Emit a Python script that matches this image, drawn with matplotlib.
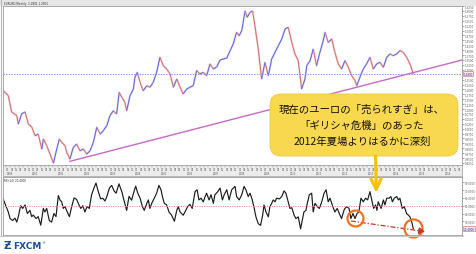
import numpy as np
import matplotlib
matplotlib.use("Agg")
import matplotlib.pyplot as plt
from matplotlib.collections import LineCollection
from matplotlib.patches import FancyBboxPatch, FancyArrowPatch, Rectangle
from matplotlib.lines import Line2D
from matplotlib.transforms import Affine2D, blended_transform_factory
from matplotlib.ticker import FormatStrFormatter

# ---------------- data ----------------
# EUR/USD weekly closes (decimal year, price)
price_t = [
    1998.89, 1999.08, 1999.21, 1999.41, 1999.47, 1999.60, 1999.73, 1999.86, 1999.99, 2000.12,
    2000.24, 2000.38, 2000.44, 2000.57, 2000.70, 2000.83, 2000.96, 2001.06, 2001.15, 2001.28,
    2001.34, 2001.47, 2001.60, 2001.73, 2001.86, 2001.99, 2002.12, 2002.25, 2002.38, 2002.51,
    2002.64, 2002.76, 2002.90, 2003.02, 2003.15, 2003.28, 2003.38, 2003.48, 2003.60, 2003.67,
    2003.80, 2003.93, 2003.99, 2004.08, 2004.19, 2004.31, 2004.45, 2004.57, 2004.70, 2004.83,
    2004.96, 2005.09, 2005.22, 2005.35, 2005.48, 2005.61, 2005.74, 2005.86, 2006.00, 2006.12,
    2006.25, 2006.38, 2006.51, 2006.64, 2006.77, 2006.90, 2007.03, 2007.16, 2007.29, 2007.41,
    2007.55, 2007.67, 2007.80, 2007.93, 2008.03, 2008.13, 2008.26, 2008.34, 2008.45, 2008.55,
    2008.64, 2008.77, 2008.90, 2009.03, 2009.16, 2009.29, 2009.42, 2009.55, 2009.68, 2009.81,
    2009.93, 2010.07, 2010.19, 2010.32, 2010.45, 2010.58, 2010.65, 2010.78, 2010.90, 2011.03,
    2011.16, 2011.29, 2011.36, 2011.48, 2011.62, 2011.74, 2011.87, 2012.00, 2012.13, 2012.26,
    2012.39, 2012.52, 2012.59, 2012.71, 2012.84, 2012.97, 2013.10, 2013.23, 2013.36, 2013.49,
    2013.62, 2013.75, 2013.88, 2014.00, 2014.14, 2014.26, 2014.39, 2014.52, 2014.65, 2014.78,
]
price_close = [
    1.193, 1.168, 1.085, 1.066, 1.023, 1.075, 1.085, 1.023, 1.008, 0.964,
    0.972, 0.896, 0.947, 0.913, 0.870, 0.824, 0.896, 0.947, 0.930, 0.913,
    0.879, 0.845, 0.904, 0.921, 0.887, 0.896, 0.870, 0.887, 0.930, 1.007,
    0.972, 0.989, 1.015, 1.066, 1.091, 1.075, 1.185, 1.160, 1.134, 1.091,
    1.168, 1.202, 1.262, 1.287, 1.236, 1.193, 1.219, 1.211, 1.236, 1.287,
    1.364, 1.321, 1.304, 1.279, 1.211, 1.253, 1.211, 1.177, 1.202, 1.211,
    1.219, 1.296, 1.279, 1.287, 1.270, 1.330, 1.304, 1.315, 1.350, 1.355,
    1.360, 1.395, 1.432, 1.491, 1.474, 1.500, 1.600, 1.568, 1.593, 1.600,
    1.525, 1.406, 1.253, 1.338, 1.270, 1.355, 1.389, 1.423, 1.457, 1.508,
    1.517, 1.440, 1.381, 1.347, 1.202, 1.253, 1.321, 1.347, 1.406, 1.321,
    1.389, 1.449, 1.491, 1.440, 1.457, 1.389, 1.330, 1.304, 1.347, 1.313,
    1.270, 1.245, 1.219, 1.262, 1.304, 1.330, 1.364, 1.304, 1.330, 1.338,
    1.313, 1.364, 1.381, 1.372, 1.381, 1.398, 1.389, 1.364, 1.330, 1.280,
]

# RSI(14) on the weekly chart
rsi_t = [
    1998.86, 1998.95, 1999.08, 1999.15, 1999.25, 1999.34, 1999.41, 1999.47, 1999.56, 1999.64,
    1999.73, 1999.82, 1999.92, 1999.99, 2000.05, 2000.16, 2000.24, 2000.34, 2000.44, 2000.50,
    2000.57, 2000.67, 2000.76, 2000.85, 2000.93, 2001.02, 2001.09, 2001.15, 2001.21, 2001.28,
    2001.34, 2001.45, 2001.54, 2001.63, 2001.73, 2001.82, 2001.89, 2001.97, 2002.05, 2002.14,
    2002.22, 2002.31, 2002.40, 2002.48, 2002.57, 2002.66, 2002.74, 2002.83, 2002.90, 2003.00,
    2003.09, 2003.18, 2003.26, 2003.37, 2003.48, 2003.58, 2003.67, 2003.76, 2003.86, 2003.97,
    2004.02, 2004.10, 2004.19, 2004.28, 2004.35, 2004.45, 2004.51, 2004.57, 2004.64, 2004.74,
    2004.83, 2004.92, 2005.00, 2005.07, 2005.13, 2005.22, 2005.31, 2005.41, 2005.52, 2005.61,
    2005.67, 2005.74, 2005.80, 2005.86, 2005.96, 2006.03, 2006.12, 2006.21, 2006.32, 2006.40,
    2006.47, 2006.55, 2006.64, 2006.71, 2006.77, 2006.86, 2006.94, 2007.03, 2007.09, 2007.20,
    2007.29, 2007.38, 2007.45, 2007.55, 2007.64, 2007.74, 2007.87, 2007.93, 2008.03, 2008.13,
    2008.22, 2008.29, 2008.38, 2008.45, 2008.52, 2008.60, 2008.68, 2008.77, 2008.86, 2008.94,
    2008.99, 2009.07, 2009.16, 2009.22, 2009.29, 2009.35, 2009.42, 2009.48, 2009.59, 2009.68,
    2009.77, 2009.84, 2009.93, 2010.00, 2010.07, 2010.16, 2010.23, 2010.32, 2010.41, 2010.49,
    2010.54, 2010.62, 2010.67, 2010.75, 2010.84, 2010.90, 2010.97, 2011.06, 2011.14, 2011.23,
    2011.32, 2011.40, 2011.48, 2011.55, 2011.66, 2011.74, 2011.83, 2011.94, 2012.00, 2012.09,
    2012.13, 2012.20, 2012.29, 2012.36, 2012.44, 2012.52, 2012.60, 2012.67, 2012.75, 2012.84,
    2012.93, 2013.01, 2013.10, 2013.17, 2013.24, 2013.32, 2013.37, 2013.42, 2013.53, 2013.62,
    2013.68, 2013.75, 2013.84, 2013.91, 2013.97, 2014.04, 2014.14, 2014.20, 2014.26, 2014.35,
    2014.43, 2014.52, 2014.59, 2014.65, 2014.72, 2014.78,
]
rsi_val = [
    60.4, 53, 42, 33.5, 31, 34, 29, 36, 50, 46.5,
    51, 40, 44, 36, 38, 33.5, 36, 25, 46.5, 42,
    46.5, 31, 29, 40, 36, 63, 57, 55, 46.5, 49,
    44, 36, 49, 60, 58, 51, 46.5, 50, 42, 49,
    46.5, 64, 72.5, 79, 68, 58.7, 59.6, 56, 61.7, 72.6,
    76, 69, 66, 78, 68, 55, 44, 62, 57, 70,
    75, 66, 59.6, 48.7, 44, 53, 57.4, 46.5, 53, 59.6,
    66, 76, 70.4, 59.6, 53, 51, 42, 37.8, 30, 44,
    48.7, 42, 40, 37.8, 44, 48.7, 51.7, 46.5, 68, 70.4,
    57.4, 59.6, 55, 61.7, 66, 57.4, 64, 53, 64, 68,
    72.6, 57.4, 64, 70.4, 57.4, 70.4, 74.8, 61.7, 57.4, 64,
    74.8, 70.4, 61.7, 66, 59.6, 48.7, 35.7, 27, 24.8, 37.8,
    50.9, 42, 35.7, 48.7, 53, 57.4, 55, 59.6, 58.7, 61.7,
    69, 66, 55, 46.5, 47.4, 37.8, 33.5, 35.7, 20.4, 33.5,
    42, 44, 53, 64, 66, 42, 53, 48.7, 46.5, 55,
    66, 70.4, 55, 59.6, 48.7, 42, 46.5, 37.8, 33.5, 44,
    46.5, 48.7, 46.5, 33.5, 40, 33.5, 40, 42, 59.6, 55,
    59.6, 57.4, 68, 57.4, 46.5, 51, 44, 55, 46.5, 57.4,
    51, 59.6, 59.6, 61.7, 55, 59.6, 61.7, 57.4, 59.6, 46.5,
    48.7, 40, 37.8, 35.7, 29, 20.4,
]

# long-term support line through the 2001 low
trend_t = [2001.47, 2016.67]
trend_p = [0.833, 1.350]

rsi_mid_level = 50
years = list(range(1999, 2017))

callout_lines = [
    "現在のユーロの「売られすぎ」は、",
    "「ギリシャ危機」のあった",
    "2012年夏場よりはるかに深刻",
]

# ---------------- figure ----------------
W, H = 477, 255
fig = plt.figure(figsize=(W / 100, H / 100), dpi=100, facecolor="white")
PX = Affine2D().scale(1 / W, -1 / H).translate(0, 1) + fig.transFigure


def rect(x0, y0, x1, y1):
    return [x0 / W, 1 - y1 / H, (x1 - x0) / W, (y1 - y0) / H]


T0, T1 = 1998.876, 2016.667
TINY = 2.0
AXCOL = "#9a9a9a"

# window header band and frame
fig.add_artist(Rectangle((0, 0), W, 6.5, transform=PX, facecolor="#e7e7e7",
                         edgecolor="none", zorder=-1))
fig.add_artist(Line2D([1.2, 1.2], [0, 237], transform=PX, color="#b5b5b5", lw=0.8))
fig.add_artist(Line2D([0, 463], [236.8, 236.8], transform=PX, color="#c8c8c8", lw=0.8))

# ---- price panel ----
ax = fig.add_axes(rect(3, 7, 462, 166))
ax.set_xlim(T0, T1)
ax.set_ylim(0.8143, 1.6255)
pts = np.column_stack([price_t, price_close])
segs = np.stack([pts[:-1], pts[1:]], axis=1)
cols = ["#6464e8" if b >= a else "#e46c6c" for a, b in zip(price_close[:-1], price_close[1:])]
ax.plot(price_t, price_close, color="#a0a0b4", lw=1.5, alpha=0.35, solid_joinstyle="round")
ax.add_collection(LineCollection(segs, colors=cols, linewidths=0.75))
ax.plot(trend_t, trend_p, color="#c869c8", lw=1.0)
last_price = price_close[-1]
ax.axhline(last_price, color="#8f8fff", lw=0.8, ls=(0, (1.2, 1.2)))

ax.set_xticks([])
ax.yaxis.tick_right()
pticks = [v for v in np.arange(0.825, 1.626, 0.025) if abs(v - last_price) > 0.012]
ax.set_yticks(pticks)
ax.yaxis.set_major_formatter(FormatStrFormatter("%.4f"))
ax.tick_params(axis="y", labelsize=TINY, length=1.5, width=0.4, pad=0.6,
               colors="#606060")
for s in ax.spines.values():
    s.set_color(AXCOL)
    s.set_linewidth(0.6)
ax.text(1.003, last_price, f"{last_price:.4f}",
        transform=blended_transform_factory(ax.transAxes, ax.transData),
        fontsize=TINY, color="#2a2ac0", ha="left", va="center",
        bbox=dict(boxstyle="square,pad=0.25", fc="#fde8e8", ec="#e06060", lw=0.4))
fig.text(4 / W, 1 - 3.8 / H, "EURUSD,Weekly  1.2801 1.2801", fontsize=TINY,
         color="#303030", va="center", ha="left")

# ---- date strip ----
axd = fig.add_axes(rect(3, 166, 462, 176.5))
axd.set_xlim(T0, T1)
axd.set_ylim(0, 1)
axd.set_facecolor("#ececec")
axd.set_xticks([])
axd.set_yticks([])
for s in axd.spines.values():
    s.set_color(AXCOL)
    s.set_linewidth(0.5)
for yr in years:
    for m in range(1, 13, 2):
        t = yr + (m - 1) / 12
        if T0 <= t <= T1 - 0.1:
            axd.plot([t, t], [0.82, 1.0], color="#777777", lw=0.35)
            axd.text(t, 0.6, f"{m:02d}", fontsize=1.8, color="#555555",
                     ha="left", va="center")
    if T0 <= yr <= T1 - 0.3:
        axd.text(yr, 0.2, str(yr), fontsize=1.8, color="#555555",
                 ha="left", va="center")

# ---- RSI panel ----
axr = fig.add_axes(rect(3, 177.5, 462, 235.5))
axr.set_xlim(T0, T1)
axr.set_ylim(13.1, 87.4)
axr.plot(rsi_t, rsi_val, color="#1c1c1c", lw=0.85)
axr.axhline(rsi_mid_level, color="#ff8c8c", lw=0.7, ls=(0, (1.2, 1.2)))
axr.set_xticks([])
axr.yaxis.tick_right()
last_rsi = rsi_val[-1]
rticks = [v for v in range(20, 81, 10) if abs(v - last_rsi) > 4]
axr.set_yticks(rticks)
axr.yaxis.set_major_formatter(FormatStrFormatter("%.4f"))
axr.tick_params(axis="y", labelsize=TINY, length=1.5, width=0.4, pad=0.6,
                colors="#606060")
for s in axr.spines.values():
    s.set_color(AXCOL)
    s.set_linewidth(0.6)
axr.text(1.003, last_rsi, f"{last_rsi:.4f}",
         transform=blended_transform_factory(axr.transAxes, axr.transData),
         fontsize=TINY, color="#2a2ac0", ha="left", va="center",
         bbox=dict(boxstyle="square,pad=0.25", fc="#fde8e8", ec="#e06060", lw=0.4))
axr.text(0.002, 0.975, f"RSI(14) {last_rsi:.4f}", transform=axr.transAxes,
         fontsize=TINY, color="#303030", ha="left", va="top")

# divergence markup: circles round the two RSI lows and a falling dash-dot line
axr.plot([2012.36, 2015.10], [30.4, 17.4], color="#c0392b", lw=0.9,
         ls=(0, (4, 1.5, 1, 1.5)), clip_on=False)
axr.annotate("", xy=(2015.23, 16.7), xytext=(2015.05, 17.6),
             arrowprops=dict(arrowstyle="-|>,head_length=0.35,head_width=0.2",
                             color="#c0392b", lw=0.9, shrinkA=0, shrinkB=0),
             annotation_clip=False)
axr.plot([2012.52], [33.6], marker="o", ms=11.5, mfc="none", mec="#f37021",
         mew=1.6, clip_on=False)
axr.plot([2014.77], [21.4], marker="o", ms=13, mfc="none", mec="#f37021",
         mew=1.6, clip_on=False)

# ---- callout ----
box = FancyBboxPatch((270, 95), 188, 62, boxstyle="round,pad=0,rounding_size=11",
                     transform=PX, facecolor="#f8d84f", edgecolor="#eccb3a",
                     lw=0.6, zorder=5)
fig.add_artist(box)
for i, line in enumerate(callout_lines):
    fig.text(362 / W, 1 - (110 + 16 * i) / H, line, fontsize=7.5,
             family=["Noto Sans CJK JP", "DejaVu Sans"], color="#111111",
             ha="center", va="center", zorder=6)
arrow = FancyArrowPatch((375.6, 157), (376.3, 194), transform=PX,
                        arrowstyle="->,head_length=7.5,head_width=3.6",
                        mutation_scale=1, color="#f5c20a", lw=2.3,
                        shrinkA=0, shrinkB=0, zorder=7)
fig.add_artist(arrow)

# ---- logo ----
fig.text(3 / W, 1 - 246.5 / H, "Ƶ", fontsize=7.5, fontweight="bold",
         color="#1d4f9a", ha="left", va="center")
fig.text(13.5 / W, 1 - 246.5 / H, "FXCM", fontsize=6.5, fontweight="bold",
         color="#1d4f9a", ha="left", va="center")
fig.text(41.5 / W, 1 - 243.5 / H, "®", fontsize=3, color="#1d4f9a",
         ha="left", va="center")

fig.savefig("out.png", dpi=100, facecolor="white")
